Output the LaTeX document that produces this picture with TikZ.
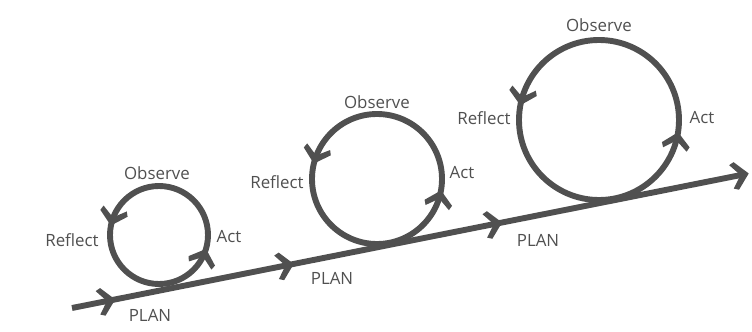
\documentclass[tikz,border=0pt]{standalone}
\usepackage{fontspec}
\setmainfont{Open Sans}
\usetikzlibrary{decorations.markings}
\definecolor{cyclegray}{RGB}{80,80,80}

\newcommand{\chevron}{\fill[cyclegray] (2pt,0pt) -- (-7pt,10pt) -- (-10.5pt,8.5pt) -- (-4pt,0pt) -- (-10.5pt,-8.5pt) -- (-7pt,-10pt) -- cycle;}

\tikzset{
    cycleline/.style={draw=cyclegray, line width=4.2pt},
    lbl/.style={text=cyclegray, inner sep=0pt, font=\fontsize{12}{14}\selectfont},
    cyclemarks/.style 2 args={postaction={decorate},
        decoration={markings,
            mark=at position #1 with {\chevron},
            mark=at position #2 with {\chevron}}},
    planmarks/.style={postaction={decorate},
        decoration={markings,
            mark=at position 0.06 with {\chevron},
            mark=at position 0.325 with {\chevron},
            mark=at position 0.634 with {\chevron},
            mark=at position 1 with {\chevron}}}
}

\begin{document}
\begin{tikzpicture}[x=0.025cm,y=0.025cm]
    \useasboundingbox (0,0) rectangle (752,331);
    \coordinate (c1) at (159,96);
    \coordinate (c2) at (377,152);
    \coordinate (c3) at (599,211);
    \coordinate (planstart) at (72,23);
    \coordinate (planend) at (746,157);
    % the three cycles
    \draw[cycleline, cyclemarks={0.46}{0.945}] (c1) circle (49);
    \draw[cycleline, cyclemarks={0.455}{0.965}] (c2) circle (65);
    \draw[cycleline, cyclemarks={0.465}{0.97}] (c3) circle (80);
    % the plan line
    \draw[cycleline, planmarks] (planstart) -- (planend);
    % labels
    \node[lbl] (obs1) at (157,158) {Observe};
    \node[lbl] (ref1) at (72,91) {Reflect};
    \node[lbl] (act1) at (229,94) {Act};
    \node[lbl] (plan1) at (150,16) {PLAN};
    \node[lbl] (obs2) at (377,229) {Observe};
    \node[lbl] (ref2) at (277,149) {Reflect};
    \node[lbl] (act2) at (462,158) {Act};
    \node[lbl] (plan2) at (332,53) {PLAN};
    \node[lbl] (obs3) at (599,306) {Observe};
    \node[lbl] (ref3) at (484,213) {Reflect};
    \node[lbl] (act3) at (702,213) {Act};
    \node[lbl] (plan3) at (538,91) {PLAN};
\end{tikzpicture}
\end{document}
